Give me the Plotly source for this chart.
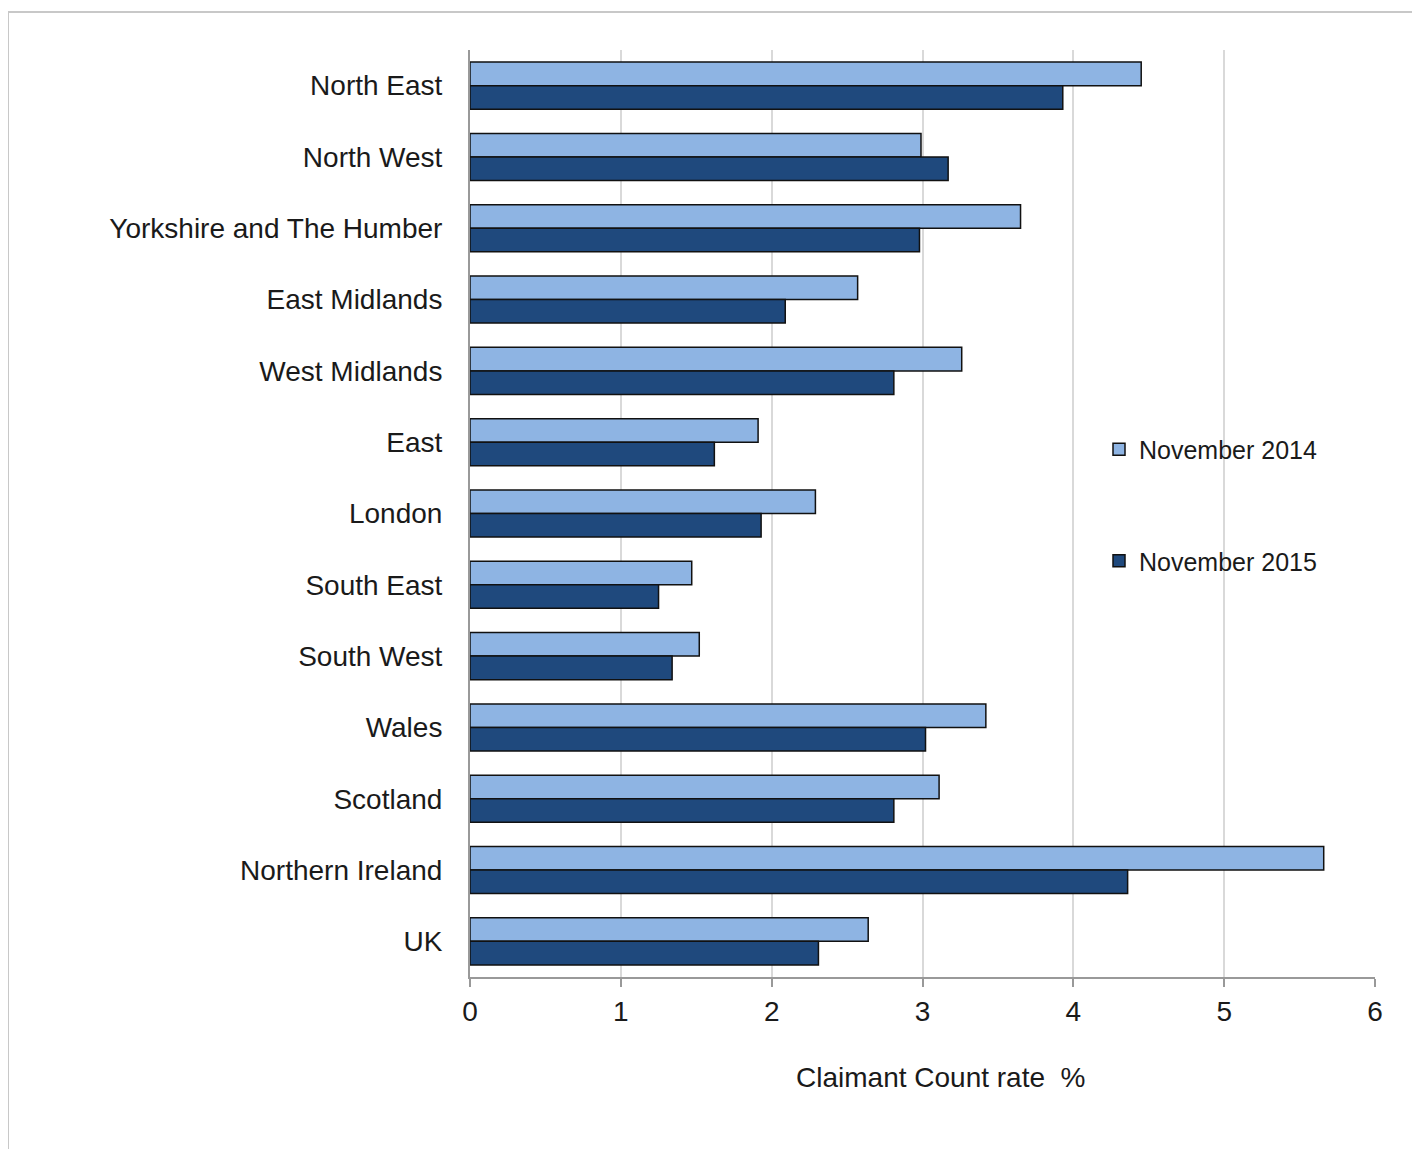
import plotly.graph_objects as go

regions = ["North East", "North West", "Yorkshire and The Humber", "East Midlands",
           "West Midlands", "East", "London", "South East", "South West", "Wales",
           "Scotland", "Northern Ireland", "UK"]
nov2014 = [4.45, 2.99, 3.65, 2.57, 3.26, 1.91, 2.29, 1.47, 1.52, 3.42, 3.11, 5.66, 2.64]
nov2015 = [3.93, 3.17, 2.98, 2.09, 2.81, 1.62, 1.93, 1.25, 1.34, 3.02, 2.81, 4.36, 2.31]
x_ticks = [0, 1, 2, 3, 4, 5, 6]
x_title = "Claimant Count rate  %"

FONT = "Liberation Sans, Arial, sans-serif"

fig = go.Figure()
fig.add_trace(go.Bar(
    y=regions, x=nov2014, orientation="h", name="November 2014",
    marker=dict(color="#8EB4E3", line=dict(color="#111111", width=1.5)),
    legendgroup="a",
))
fig.add_trace(go.Bar(
    y=regions, x=nov2015, orientation="h", name="November 2015",
    marker=dict(color="#1F497D", line=dict(color="#111111", width=1.5)),
    legendgroup="b",
))

# page body has an 8px margin; figure coordinates below are relative to the figure
W, H = 1412, 1141
L, R, T, B = 462, 45, 42, 172
pw = W - L - R
ph = H - T - B

def px2paper_x(px):
    return (px - L) / pw

def px2paper_y(py):
    return (H - B - py) / ph

fig.update_layout(
    width=W, height=H,
    margin=dict(l=L, r=R, t=T, b=B),
    paper_bgcolor="white", plot_bgcolor="white",
    barmode="group", bargap=0.34, bargroupgap=0,
    font=dict(family=FONT, size=28, color="#1a1a1a"),
    xaxis=dict(
        range=[0, 6], tickvals=x_ticks, showgrid=True, gridcolor="#D9D9D9", gridwidth=1.5,
        showline=True, linecolor="#999999", linewidth=2,
        ticks="outside", ticklen=8, tickcolor="#999999", tickwidth=1.5,
        tickfont=dict(size=28), zeroline=False,
    ),
    yaxis=dict(
        autorange="reversed", showline=True, linecolor="#999999", linewidth=2,
        ticks="", ticklabelstandoff=20, tickfont=dict(size=28),
        showgrid=False,
    ),
    legend=dict(
        x=px2paper_x(1091), y=px2paper_y(497), xanchor="left", yanchor="middle",
        font=dict(size=25), tracegroupgap=76, bgcolor="rgba(0,0,0,0)",
        itemwidth=30,
    ),
    annotations=[
        dict(text=x_title, xref="paper", yref="paper",
             x=px2paper_x(932), y=px2paper_y(1069), xanchor="center", yanchor="middle",
             showarrow=False, font=dict(size=28)),
    ],
    shapes=[
        dict(type="line", xref="paper", yref="paper",
             x0=px2paper_x(0), x1=px2paper_x(1430), y0=px2paper_y(4), y1=px2paper_y(4),
             line=dict(color="#C8C8C8", width=2)),
        dict(type="line", xref="paper", yref="paper",
             x0=px2paper_x(0), x1=px2paper_x(0), y0=px2paper_y(4), y1=px2paper_y(1160),
             line=dict(color="#C8C8C8", width=2)),
    ],
)

fig.write_html("out.html")
